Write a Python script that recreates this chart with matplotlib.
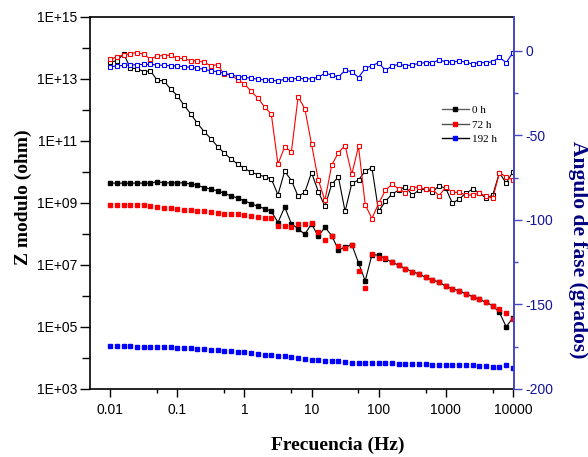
import numpy as np
import matplotlib
matplotlib.use("Agg")
import matplotlib.pyplot as plt
from matplotlib.ticker import FixedLocator, MultipleLocator, NullFormatter
from matplotlib.lines import Line2D

# frecuencias de medida (10 puntos por decada)
freq = np.logspace(-2, 4, 61)

# log10 del modulo de Z (ohm), simbolos rellenos
logz_0h = [9.64, 9.64, 9.64, 9.64, 9.64, 9.64, 9.64, 9.69, 9.65, 9.65,
           9.65, 9.65, 9.61, 9.57, 9.50, 9.45, 9.39, 9.31, 9.23, 9.16,
           9.07, 8.98, 8.89, 8.82, 8.74, 8.37, 8.87, 8.33, 8.17, 7.99,
           8.33, 7.92, 8.22, 7.95, 7.49, 7.57, 7.66, 7.07, 6.49, 7.33,
           7.32, 7.20, 7.09, 6.99, 6.88, 6.79, 6.71, 6.60, 6.52, 6.45,
           6.32, 6.23, 6.17, 6.07, 5.98, 5.89, 5.80, 5.69, 5.47, 5.01,
           5.29]
logz_72h = [8.94, 8.94, 8.94, 8.94, 8.94, 8.94, 8.91, 8.86, 8.84, 8.83,
            8.81, 8.79, 8.77, 8.75, 8.73, 8.70, 8.67, 8.66, 8.64, 8.63,
            8.61, 8.57, 8.55, 8.52, 8.51, 8.27, 8.27, 8.22, 8.31, 8.33,
            8.35, 8.07, 7.80, 7.94, 7.60, 7.56, 7.66, 6.81, 6.27, 7.36,
            7.22, 7.24, 7.09, 6.99, 6.88, 6.79, 6.71, 6.60, 6.52, 6.45,
            6.32, 6.23, 6.17, 6.07, 5.98, 5.89, 5.80, 5.69, 5.58, 5.44,
            5.25]
logz_192h = [4.39, 4.39, 4.39, 4.38, 4.37, 4.36, 4.36, 4.35, 4.35, 4.34,
             4.33, 4.32, 4.31, 4.30, 4.28, 4.27, 4.26, 4.24, 4.22, 4.20,
             4.18, 4.16, 4.13, 4.11, 4.09, 4.07, 4.05, 4.02, 3.99, 3.97,
             3.95, 3.93, 3.91, 3.90, 3.89, 3.86, 3.85, 3.84, 3.84, 3.85,
             3.84, 3.83, 3.83, 3.82, 3.82, 3.81, 3.80, 3.80, 3.79, 3.79,
             3.78, 3.78, 3.77, 3.77, 3.76, 3.75, 3.74, 3.72, 3.72, 3.77,
             3.68]

# angulo de fase (grados), simbolos abiertos
fase_0h = [-6.4, -6.1, -1.6, -10.3, -10.5, -12.3, -11.9, -17.4, -17.8, -22.6,
           -26.5, -32.2, -37.3, -42.9, -47.8, -51.9, -56.6, -60.5, -64.0, -67.0,
           -69.5, -71.8, -73.2, -74.4, -75.7, -85.1, -71.2, -76.7, -86.0, -83.7,
           -72.0, -83.2, -92.0, -79.0, -74.5, -95.0, -78.4, -76.4, -71.1, -69.1,
           -95.0, -89.0, -84.7, -82.4, -80.3, -85.3, -82.5, -81.8, -83.5, -79.8,
           -81.3, -90.2, -87.6, -84.2, -81.8, -83.9, -87.2, -85.3, -72.1, -78.3,
           -71.5]
fase_72h = [-5.1, -3.5, -2.5, -1.6, -1.0, -2.1, -4.9, -2.9, -2.9, -2.5,
            -4.5, -4.5, -5.9, -5.9, -6.8, -8.8, -8.2, -13.9, -14.2, -17.2,
            -19.5, -24.0, -27.9, -33.2, -37.3, -67.0, -56.8, -59.7, -27.3, -34.2,
            -55.2, -76.2, -88.5, -67.7, -60.2, -56.0, -73.1, -56.5, -91.0, -99.2,
            -90.2, -82.6, -78.8, -81.7, -83.9, -80.9, -80.5, -82.0, -81.8, -85.7,
            -80.7, -83.7, -83.7, -85.3, -85.3, -84.3, -85.8, -87.2, -72.1, -74.5,
            -76.3]
fase_192h = [-9.4, -9.0, -8.6, -8.4, -8.2, -8.0, -8.0, -8.4, -8.6, -8.8,
             -9.0, -9.4, -9.8, -10.3, -10.9, -11.9, -12.3, -13.3, -14.2, -15.2,
             -15.6, -16.2, -16.8, -17.2, -17.4, -17.8, -16.8, -16.8, -16.2, -16.6,
             -16.6, -15.6, -13.3, -14.2, -15.6, -11.5, -12.3, -15.8, -10.3, -8.8,
             -7.0, -11.5, -9.0, -8.0, -8.8, -8.4, -7.4, -7.0, -7.0, -5.5,
             -6.4, -6.8, -5.9, -6.8, -7.8, -7.0, -7.0, -6.4, -3.9, -7.0,
             -1.2]

etiquetas = ["0 h", "72 h", "192 h"]
xticks = [0.01, 0.1, 1, 10, 100, 1000, 10000]
xticklabels = ["0.01", "0.1", "1", "10", "100", "1000", "10000"]
yticks = [1e3, 1e5, 1e7, 1e9, 1e11, 1e13, 1e15]
yticklabels = ["1E+03", "1E+05", "1E+07", "1E+09", "1E+11", "1E+13", "1E+15"]
fticks = [-200, -150, -100, -50, 0]

sans = "Liberation Sans"
serif = "Liberation Serif"
azul_eje = "#4848c0"
azul_txt = "#14149c"

fig = plt.figure(figsize=(5.88, 4.57), dpi=100)
ax = fig.add_axes([90/588, 1 - 389/457, 424/588, 372/457])
ax2 = ax.twinx()

ax.plot(freq, 10**np.array(logz_0h), "-s", color="k", ms=3.2, lw=0.8)
ax.plot(freq, 10**np.array(logz_72h), "s", color="red", ms=3.2)
ax.plot(freq, 10**np.array(logz_192h), "s", color="blue", ms=3.2)

ax2.plot(freq, fase_0h, "-s", color="k", mfc="white", ms=3.5, mew=0.8, lw=0.8)
ax2.plot(freq, fase_72h, "-s", color="red", mfc="white", ms=3.5, mew=0.8, lw=0.8)
ax2.plot(freq, fase_192h, "-s", color="blue", mfc="white", ms=3.5, mew=0.8, lw=0.8)

ax.set_xscale("log")
ax.set_yscale("log")
ax.set_xlim(0.005, 10400)
ax.set_ylim(1e3, 1e15)
ax2.set_ylim(-200, 20)

ax.set_xticks(xticks)
ax.set_xticklabels(xticklabels, fontfamily=sans, fontsize=10)
ax.xaxis.set_minor_locator(FixedLocator([0.05, 0.5, 5, 50, 500, 5000]))
ax.xaxis.set_minor_formatter(NullFormatter())
ax.set_yticks(yticks)
ax.set_yticklabels(yticklabels, fontfamily=sans, fontsize=10)
ax.yaxis.set_minor_locator(FixedLocator([1e4, 1e6, 1e8, 1e10, 1e12, 1e14]))
ax.yaxis.set_minor_formatter(NullFormatter())

ax2.set_yticks(fticks)
ax2.set_yticklabels([str(v) for v in fticks], fontfamily=sans, fontsize=10, color=azul_txt)
ax2.yaxis.set_minor_locator(MultipleLocator(25))

ax.tick_params(axis="x", which="major", direction="out", length=6, width=1, pad=4, top=False)
ax.tick_params(axis="x", which="minor", direction="out", length=3, width=1, top=False)
ax.tick_params(axis="y", which="major", direction="out", length=7, width=1, pad=2, right=False)
ax.tick_params(axis="y", which="minor", direction="out", length=5.5, width=1, right=False)
ax2.tick_params(axis="y", which="major", direction="out", length=6, width=1, pad=2, colors=azul_eje, labelcolor=azul_txt)
ax2.tick_params(axis="y", which="minor", direction="out", length=3, width=1, colors=azul_eje)

ax.spines["right"].set_visible(False)
for s in ["left", "top", "bottom"]:
    ax2.spines[s].set_visible(False)
    ax.spines[s].set_linewidth(1.2)
ax2.spines["right"].set_color(azul_eje)
ax2.spines["right"].set_linewidth(1.4)

fig.text(338/588, 1 - 445/457, "Frecuencia (Hz)", ha="center", va="center",
         fontfamily=serif, fontweight="bold", fontsize=14)
fig.text(23/588, 1 - 197/457, "Z modulo (ohm)", ha="center", va="center", rotation=90,
         fontfamily=serif, fontweight="bold", fontsize=14)
fig.text(578/588, 1 - 250/457, "Angulo de fase (grados)", ha="center", va="center", rotation=270,
         fontfamily=serif, fontweight="bold", fontsize=15.5, color="#000080")

handles = [Line2D([], [], color="#606060", marker="s", mfc="k", mec="k", ms=3.4, lw=1),
           Line2D([], [], color="#505050", marker="s", mfc="red", mec="red", ms=3.4, lw=1),
           Line2D([], [], color="k", marker="s", mfc="blue", mec="blue", ms=3.4, lw=1)]
ax2.legend(handles, etiquetas, loc="upper left", bbox_to_anchor=(442/588, 1 - 105/457),
           bbox_transform=fig.transFigure, frameon=False, borderpad=0, borderaxespad=0,
           handlelength=2.4, handletextpad=0.3, labelspacing=0.45,
           prop={"family": serif, "size": 8})

fig.savefig("out.png", dpi=100)
